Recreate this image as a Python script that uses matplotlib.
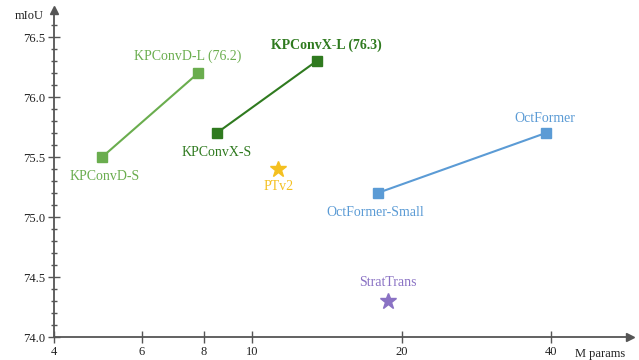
import matplotlib

matplotlib.use("Agg")
import matplotlib.pyplot as plt
from matplotlib.ticker import FixedLocator, MultipleLocator, NullLocator

plt.rcParams["font.family"] = ["Liberation Serif", "DejaVu Serif"]

# model sizes (M params) and mIoU
kpconvd_params = [5.0, 7.8]
kpconvd_miou = [75.5, 76.2]
kpconvx_params = [8.5, 13.5]
kpconvx_miou = [75.7, 76.3]
octformer_params = [17.9, 39.0]
octformer_miou = [75.2, 75.7]
ptv2_params = [11.3]
ptv2_miou = [75.4]
strat_params = [18.8]
strat_miou = [74.3]

x_ticks = [4, 6, 8, 10, 20, 40]
y_ticks = [74.0, 74.5, 75.0, 75.5, 76.0, 76.5]

LIGHT_GREEN = "#6aad4e"
DARK_GREEN = "#2f7a1f"
BLUE = "#5b9bd5"
GOLD = "#f4c020"
PURPLE = "#8a72c4"
AXIS = "#555555"

fig = plt.figure(figsize=(6.39, 3.6), dpi=100)
ax = fig.add_axes([54 / 639, 23 / 360, 576 / 639, 327 / 360])
ax.set_xscale("log")
ax.set_xlim(4, 57.6)
ax.set_ylim(74.0, 76.725)

ax.plot(kpconvd_params, kpconvd_miou, color=LIGHT_GREEN, lw=1.5, marker="s", ms=7, clip_on=False)
ax.plot(kpconvx_params, kpconvx_miou, color=DARK_GREEN, lw=1.5, marker="s", ms=7, clip_on=False)
ax.plot(octformer_params, octformer_miou, color=BLUE, lw=1.5, marker="s", ms=7, clip_on=False)
ax.plot(ptv2_params, ptv2_miou, color=GOLD, ls="none", marker="*", ms=12)
ax.plot(strat_params, strat_miou, color=PURPLE, ls="none", marker="*", ms=12)

labels = [
    ("KPConvD-L (76.2)", kpconvd_params[1], kpconvd_miou[1], (-11, 17), LIGHT_GREEN, "normal"),
    ("KPConvD-S", kpconvd_params[0], kpconvd_miou[0], (2, -20), LIGHT_GREEN, "normal"),
    ("KPConvX-L (76.3)", kpconvx_params[1], kpconvx_miou[1], (10, 16), DARK_GREEN, "bold"),
    ("KPConvX-S", kpconvx_params[0], kpconvx_miou[0], (0, -20), DARK_GREEN, "normal"),
    ("PTv2", ptv2_params[0], ptv2_miou[0], (0, -17), GOLD, "normal"),
    ("OctFormer", octformer_params[1], octformer_miou[1], (-1, 15), BLUE, "normal"),
    ("OctFormer-Small", octformer_params[0], octformer_miou[0], (-2, -20), BLUE, "normal"),
    ("StratTrans", strat_params[0], strat_miou[0], (0, 19), PURPLE, "normal"),
]
for text, x, y, off, color, weight in labels:
    ax.annotate(text, (x, y), xytext=off, textcoords="offset pixels",
                ha="center", va="center", color=color, fontsize=10, fontweight=weight)

for side in ["top", "right"]:
    ax.spines[side].set_visible(False)
for side in ["left", "bottom"]:
    ax.spines[side].set_color(AXIS)
    ax.spines[side].set_linewidth(1.3)

ax.xaxis.set_major_locator(FixedLocator(x_ticks))
ax.xaxis.set_minor_locator(NullLocator())
ax.set_xticklabels([str(t) for t in x_ticks])
ax.yaxis.set_major_locator(FixedLocator(y_ticks))
ax.yaxis.set_minor_locator(MultipleLocator(0.1))
ax.set_yticklabels([f"{t:.1f}" for t in y_ticks])
ax.tick_params(axis="both", which="major", direction="inout", length=9, width=1, color=AXIS,
               labelsize=9, labelcolor="#222222")
ax.tick_params(axis="y", which="minor", direction="inout", length=5, width=1, color=AXIS)
ax.tick_params(axis="x", pad=2)
ax.tick_params(axis="y", pad=2)

# arrow heads on the axes
ax.plot(1, 0, ">", color=AXIS, ms=6, transform=ax.transAxes, clip_on=False)
ax.plot(0, 1, "^", color=AXIS, ms=6, transform=ax.transAxes, clip_on=False)

fig.text(44 / 639, 1 - 16 / 360, "mIoU", ha="right", va="center", fontsize=9, color="#222222")
fig.text(625 / 639, 1 - 354 / 360, "M params", ha="right", va="center", fontsize=9, color="#222222")

fig.savefig("out.png", dpi=100)
